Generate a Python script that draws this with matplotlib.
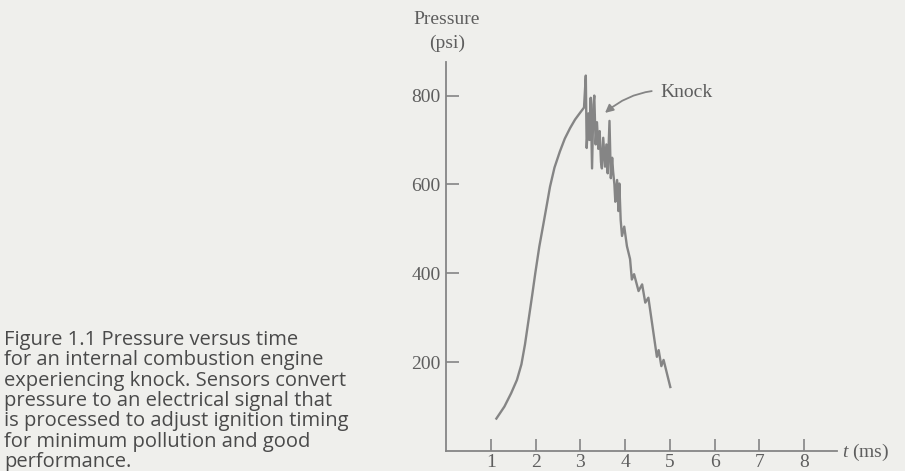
import matplotlib.pyplot as plt

plt.rcParams['mathtext.fontset'] = 'custom'
plt.rcParams['mathtext.rm'] = 'Liberation Serif'
plt.rcParams['mathtext.it'] = 'Liberation Serif:italic'

# Corba de pressió (part suau abans del knock)
t_suau = [1.12, 1.30, 1.45, 1.58, 1.68, 1.76, 1.84, 1.92, 1.99, 2.08, 2.17, 2.25,
          2.32, 2.42, 2.54, 2.65, 2.77, 2.88, 2.99, 3.08]
p_suau = [73, 100, 130, 160, 195, 240, 295, 350, 400, 460, 510, 555,
          595, 638, 674, 703, 727, 746, 761, 773]

# Part amb knock (oscil·lacions)
t_knock = [3.12, 3.14, 3.18, 3.20, 3.23, 3.26, 3.29, 3.31, 3.34, 3.37, 3.40, 3.43,
           3.46, 3.48, 3.51, 3.55, 3.58, 3.61, 3.65, 3.68, 3.71, 3.73, 3.76, 3.78,
           3.82, 3.85, 3.87, 3.90, 3.93, 3.98, 4.04, 4.11, 4.15, 4.20, 4.30, 4.38,
           4.45, 4.52, 4.71, 4.75, 4.81, 4.86, 5.01]
p_knock = [845, 682, 760, 700, 795, 636, 780, 800, 690, 740, 680, 720,
           650, 636, 705, 640, 690, 625, 743, 614, 660, 630, 600, 561,
           610, 540, 602, 520, 484, 505, 461, 432, 386, 398, 360, 375,
           334, 345, 212, 227, 191, 205, 144]

x_ticks = [1, 2, 3, 4, 5, 6, 7, 8]
y_ticks = [200, 400, 600, 800]

caption = ['Figure 1.1 Pressure versus time',
           'for an internal combustion engine',
           'experiencing knock. Sensors convert',
           'pressure to an electrical signal that',
           'is processed to adjust ignition timing',
           'for minimum pollution and good',
           'performance.']

W, H = 905, 471
fons = '#efefec'
gris = '#858585'
text_gris = '#5e5e5e'

fig = plt.figure(figsize=(W / 100, H / 100), dpi=100, facecolor=fons)
ax = fig.add_axes([446.3 / W, (H - 451) / H, (837 - 446.3) / W, (451 - 62) / H])
ax.set_facecolor(fons)

t_tot = t_suau + t_knock
p_tot = p_suau + p_knock
ax.plot(t_tot, p_tot, color=gris, lw=1.7, solid_joinstyle='round')

ax.set_xlim(0, (837 - 446.3) / 44.71)
ax.set_ylim(0, (451 - 62) / 0.4443)

for s in ['top', 'right']:
    ax.spines[s].set_visible(False)
for s in ['left', 'bottom']:
    ax.spines[s].set_color(gris)
    ax.spines[s].set_linewidth(1.3)

serif = 'Liberation Serif'
ax.set_xticks(x_ticks)
ax.set_yticks(y_ticks)
ax.tick_params(direction='in', length=9, width=1.2, color=gris,
               labelcolor=text_gris, labelsize=14, pad=4)
ax.tick_params(axis='x', pad=2)
for lab in ax.get_xticklabels() + ax.get_yticklabels():
    lab.set_fontfamily(serif)

fig.text(447 / W, 1 - 20 / H, 'Pressure', ha='center', va='center',
         fontsize=14, family=serif, color=text_gris)
fig.text(447 / W, 1 - 43 / H, '(psi)', ha='center', va='center',
         fontsize=14, family=serif, color=text_gris)
fig.text(842 / W, 1 - 452 / H, r'$t$ (ms)', ha='left', va='center',
         fontsize=14, family=serif, color=text_gris)

ax.annotate('Knock', xy=(3.55, 761), xytext=(4.78, 806),
            fontsize=14, family=serif, color=text_gris, va='center', ha='left',
            arrowprops=dict(arrowstyle='-|>', color=gris, lw=1.3,
                            mutation_scale=12, shrinkA=4, shrinkB=0,
                            connectionstyle='arc3,rad=0.25'))

for i, linia in enumerate(caption):
    fig.text(4 / W, 1 - (345 + i * 20.3) / H, linia, ha='left', va='baseline',
             fontsize=14.5, family='Open Sans', color='#4a4a4a')

fig.savefig('out.png', dpi=100, facecolor=fons)
